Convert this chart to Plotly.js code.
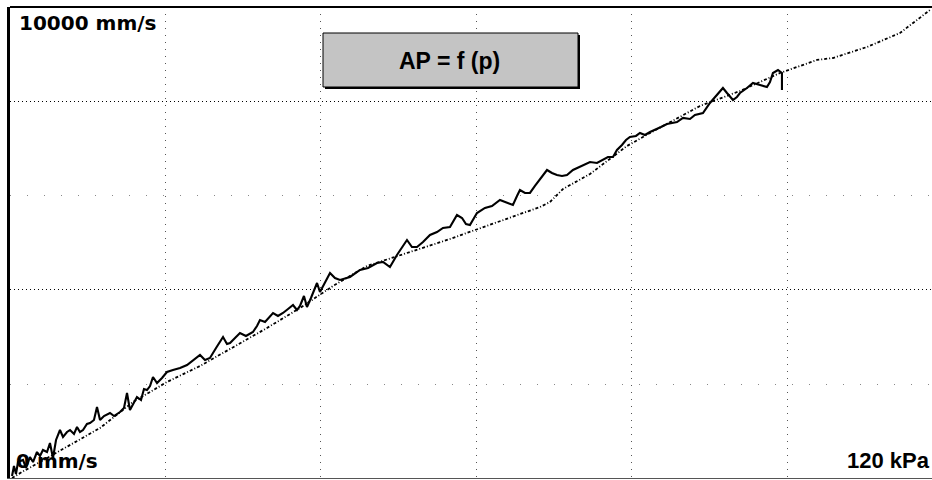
<!DOCTYPE html>
<html>
<head>
<meta charset="utf-8">
<script src="https://cdn.plot.ly/plotly-3.0.1.min.js"></script>
<style>
  html, body { margin: 0; padding: 0; background: #ffffff; }
  #chart { width: 932px; height: 480px; }
</style>
</head>
<body>
<div id="chart"></div>
<script>
// Pressure (kPa) against flow speed (mm/s): measured trace and fitted curve
const measuredP = [0.26, 0.51, 0.77, 1.03, 1.67, 2.06, 2.57, 2.96, 3.47, 3.86, 4.24, 4.76, 5.14, 5.53, 5.92,
  6.43, 6.82, 7.33, 7.72, 8.23, 8.62, 9.00, 9.39, 9.90, 10.29, 10.80, 11.19, 11.58, 12.09, 12.86, 13.38,
  14.15, 14.66, 15.05, 15.43, 15.95, 16.33, 16.85, 17.23, 17.62, 18.01, 18.39, 18.91, 19.55, 20.19, 20.96,
  21.87, 22.77, 23.54, 24.44, 25.08, 25.72, 26.50, 27.40, 27.91, 28.30, 28.94, 29.58, 30.35, 31.25, 31.77,
  32.15, 32.80, 33.83, 34.47, 35.11, 35.76, 36.40, 36.91, 37.30, 37.81, 38.20, 38.71, 39.49, 39.87, 40.39,
  41.16, 41.80, 42.44, 43.73, 45.02, 46.05, 47.20, 47.97, 48.87, 49.77, 50.55, 51.06, 51.70, 52.35, 53.12,
  54.02, 54.92, 55.69, 56.59, 57.49, 58.14, 58.65, 59.16, 59.68, 60.06, 61.09, 61.99, 63.02, 63.79, 64.69,
  65.21, 65.59, 66.24, 66.88, 67.52, 68.30, 69.07, 69.71, 70.35, 71.00, 71.64, 72.41, 73.31, 74.60, 75.50,
  76.27, 76.91, 77.56, 78.07, 78.71, 79.23, 79.74, 80.51, 81.03, 81.67, 82.32, 82.96, 83.73, 84.50, 85.14,
  85.79, 86.56, 87.46, 88.10, 89.13, 90.03, 90.93, 91.70, 92.22, 92.99, 93.50, 93.89, 94.79, 95.56, 96.46,
  97.36, 97.75, 98.13, 98.78, 99.29, 99.29];
const measuredV = [43, 255, 85, 340, 383, 213, 447, 340, 553, 468, 596, 553, 745, 426, 809,
  1021, 872, 979, 1021, 936, 1085, 979, 1021, 1149, 1170, 1234, 1511, 1234, 1319, 1383, 1319,
  1404, 1489, 1809, 1447, 1617, 1723, 1660, 1894, 1872, 1957, 2149, 2021, 2128, 2255, 2298,
  2340, 2404, 2511, 2617, 2511, 2553, 2766, 3000, 2851, 2872, 2979, 3085, 3021, 3106, 3234,
  3362, 3319, 3511, 3447, 3511, 3596, 3681, 3574, 3660, 3872, 3638, 3830, 4149, 3957, 4128,
  4362, 4255, 4213, 4277, 4426, 4468, 4574, 4596, 4489, 4745, 4936, 5064, 4915, 4915, 5021,
  5170, 5234, 5319, 5340, 5596, 5532, 5404, 5383, 5532, 5638, 5745, 5787, 5915, 5872, 5809,
  6000, 6128, 6064, 6064, 6213, 6383, 6553, 6489, 6447, 6426, 6447, 6553, 6617, 6723, 6702,
  6766, 6830, 6830, 6979, 7085, 7191, 7255, 7277, 7340, 7298, 7362, 7404, 7468, 7532, 7553,
  7574, 7660, 7638, 7723, 7766, 7979, 8149, 8298, 8191, 8043, 8106, 8191, 8298, 8404, 8362,
  8319, 8425, 8617, 8681, 8617, 8255];

const fittedP = [0.26, 1.54, 3.86, 7.33, 11.58, 15.82, 20.19, 24.44, 28.68, 33.05, 37.30, 41.54, 45.92,
  51.83, 56.59, 60.19, 64.31, 68.17, 69.45, 71.13, 74.60, 76.79, 79.36, 82.32, 85.79, 88.75, 93.89,
  99.04, 103.80, 105.85, 110.23, 114.47, 118.33];
const fittedV = [0, 128, 340, 660, 1064, 1617, 2043, 2383, 2787, 3191, 3617, 4085, 4511,
  4830, 5085, 5298, 5532, 5766, 5872, 6149, 6468, 6745, 7064, 7340, 7660, 7915, 8234,
  8617, 8894, 8936, 9170, 9468, 9957];

const majorSpeedTicks = [4000, 8000];
const minorSpeedTicks = [2000, 6000];
const pressureTicks = [20, 40, 60, 80, 100];

const labelFont = { family: 'DejaVu Sans, sans-serif', size: 20, color: '#000000', weight: 'bold' };

const traces = [
  {
    x: fittedP, y: fittedV, type: 'scatter', mode: 'lines',
    line: { color: '#000000', width: 1.8, dash: '3px,2px,1px,2px' },
    hoverinfo: 'skip'
  },
  {
    x: measuredP, y: measuredV, type: 'scatter', mode: 'lines',
    line: { color: '#000000', width: 2.1 },
    hoverinfo: 'skip'
  }
];

const layout = {
  width: 932, height: 480,
  margin: { l: 10, r: 0, t: 7, b: 2 },
  paper_bgcolor: '#ffffff', plot_bgcolor: '#ffffff',
  showlegend: false,
  xaxis: {
    range: [0, 118.59], tickmode: 'array', tickvals: pressureTicks,
    showticklabels: false, ticks: '', zeroline: false,
    showgrid: true, gridcolor: '#555555', gridwidth: 1, griddash: '1px,6px',
    showline: true, linecolor: '#555555', linewidth: 1
  },
  yaxis: {
    range: [0, 10021], tickmode: 'array', tickvals: majorSpeedTicks,
    showticklabels: false, ticks: '', zeroline: false,
    showgrid: true, gridcolor: '#000000', gridwidth: 1, griddash: '1px,3px',
    minor: { tickvals: minorSpeedTicks, showgrid: true, gridcolor: '#888888', gridwidth: 1, griddash: '1px,16px' },
    showline: true, linecolor: '#000000', linewidth: 3
  },
  shapes: [
    // heavy frame line along the top
    { type: 'line', xref: 'paper', yref: 'paper', x0: 0, x1: 1, y0: 1, y1: 1,
      line: { color: '#000000', width: 2 } },
    // caption box with its drop shadow
    { type: 'rect', xref: 'paper', yref: 'paper',
      x0: (325 - 10) / 922, x1: (580 - 10) / 922, y0: (478 - 89) / 471, y1: (478 - 35) / 471,
      fillcolor: '#000000', line: { width: 0 } },
    { type: 'rect', xref: 'paper', yref: 'paper',
      x0: (323 - 10) / 922, x1: (578 - 10) / 922, y0: (478 - 87) / 471, y1: (478 - 33) / 471,
      fillcolor: '#c4c4c4', line: { color: '#000000', width: 1 } }
  ],
  annotations: [
    { text: '10000 mm/s', xref: 'paper', yref: 'paper', x: (17 - 10) / 922, y: (478 - 9) / 471,
      xanchor: 'left', yanchor: 'top', showarrow: false, font: labelFont },
    { text: '0 mm/s', xref: 'paper', yref: 'paper', x: (14 - 10) / 922, y: (478 - 475) / 471,
      xanchor: 'left', yanchor: 'bottom', showarrow: false, font: labelFont },
    { text: '120 kPa', xref: 'paper', yref: 'paper', x: 1, y: (478 - 475) / 471,
      xanchor: 'right', yanchor: 'bottom', showarrow: false,
      font: { family: 'Liberation Sans, Arial, sans-serif', size: 22, color: '#000000', weight: 'bold' } },
    { text: 'AP = f (p)', xref: 'paper', yref: 'paper', x: (449 - 10) / 922, y: (478 - 61) / 471,
      xanchor: 'center', yanchor: 'middle', showarrow: false,
      font: { family: 'Liberation Sans, Arial, sans-serif', size: 23, color: '#000000', weight: 'bold' } }
  ]
};

Plotly.newPlot('chart', traces, layout, { staticPlot: true, displayModeBar: false });
</script>
</body>
</html>
